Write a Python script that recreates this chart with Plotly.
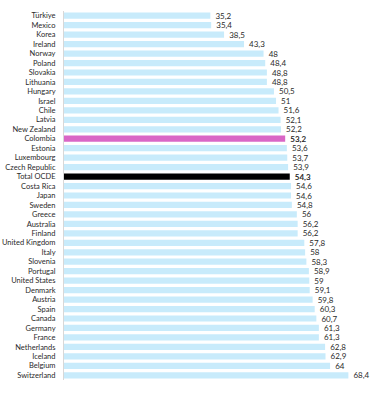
import plotly.graph_objects as go

countries = ["Türkiye", "Mexico", "Korea", "Ireland", "Norway", "Poland", "Slovakia", "Lithuania",
             "Hungary", "Israel", "Chile", "Latvia", "New Zealand", "Colombia", "Estonia", "Luxembourg",
             "Czech Republic", "Total OCDE", "Costa Rica", "Japan", "Sweden", "Greece", "Australia",
             "Finland", "United Kingdom", "Italy", "Slovenia", "Portugal", "United States", "Denmark",
             "Austria", "Spain", "Canada", "Germany", "France", "Netherlands", "Iceland", "Belgium",
             "Switzerland"]
values = [35.2, 35.4, 38.5, 43.3, 48, 48.4, 48.8, 48.8, 50.5, 51, 51.6, 52.1, 52.2, 53.2, 53.6, 53.7,
          53.9, 54.3, 54.6, 54.6, 54.8, 56, 56.2, 56.2, 57.8, 58, 58.3, 58.9, 59, 59.1, 59.8, 60.3,
          60.7, 61.3, 61.3, 62.8, 62.9, 64, 68.4]

highlight = {"Colombia": "#d966c6", "Total OCDE": "#000000"}
colors = [highlight.get(c, "#c8ebfb") for c in countries]
labels = ["\u00a0" + (("<b>%s</b>" if c in highlight else "%s") % (f"{v:g}".replace(".", ",")))
          for c, v in zip(countries, values)]

fig = go.Figure(go.Bar(
    x=values, y=countries, orientation="h",
    marker=dict(color=colors, line=dict(width=0)),
    text=labels, textposition="outside", cliponaxis=False, constraintext="none",
    textfont=dict(family="Lato", size=8, color="#2a2a2a"),
    width=0.66,
))
fig.update_layout(
    width=373, height=394,
    margin=dict(l=64, r=3, t=11, b=14),
    paper_bgcolor="white", plot_bgcolor="white",
    showlegend=False,
    font=dict(family="Lato", size=7.5, color="#2a2a2a"),
)
fig.update_xaxes(range=[0, 73.6], visible=False)
fig.update_yaxes(autorange="reversed", showline=True, linecolor="#d8d8d8", linewidth=1,
                 ticks="", ticklabelstandoff=6, tickfont=dict(family="Lato", size=7.5, color="#2a2a2a"),
                 showgrid=False)
fig.write_html("out.html")
